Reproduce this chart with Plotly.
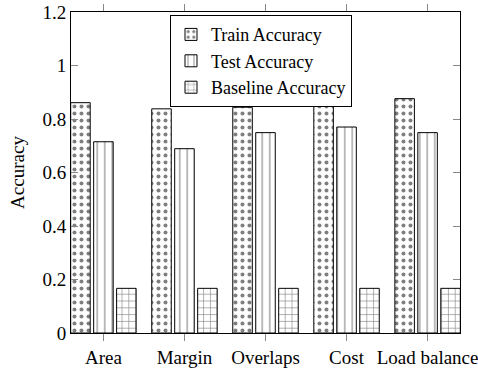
import plotly.graph_objects as go

categories = ["Area", "Margin", "Overlaps", "Cost", "Load balance"]
train_acc = [0.861, 0.838, 0.844, 0.853, 0.876]
test_acc = [0.715, 0.689, 0.749, 0.770, 0.749]
baseline_acc = [0.167, 0.167, 0.167, 0.167, 0.167]
y_ticks = [0, 0.2, 0.4, 0.6, 0.8, 1.0, 1.2]
y_tick_labels = ["0", "0.2", "0.4", "0.6", "0.8", "1", "1.2"]

FONT = "Liberation Serif"
FS = 19

series = [
    ("Train Accuracy", train_acc, dict(shape=".", size=7, solidity=0.26)),
    ("Test Accuracy", test_acc, dict(shape="|", size=7.5, solidity=0.14)),
    ("Baseline Accuracy", baseline_acc, dict(shape="+", size=6.8, solidity=0.17)),
]

fig = go.Figure()
for name, vals, pat in series:
    fig.add_trace(go.Bar(
        name=name,
        x=categories,
        y=vals,
        marker=dict(
            color="white",
            line=dict(color="black", width=1),
            pattern=dict(fgcolor="black", bgcolor="white", fillmode="overlay", **pat),
        ),
    ))

fig.update_layout(
    width=478,
    height=372,
    margin=dict(l=71, r=18, t=12, b=39, autoexpand=False),
    paper_bgcolor="white",
    plot_bgcolor="white",
    barmode="group",
    bargap=0.15,
    bargroupgap=0.15,
    font=dict(family=FONT, size=FS, color="black"),
    showlegend=True,
    legend=dict(
        x=0.2545, y=0.99, xanchor="left", yanchor="top",
        bordercolor="black", borderwidth=1, bgcolor="white",
        font=dict(family=FONT, size=18),
        tracegroupgap=0, itemwidth=30,
    ),
)

fig.update_xaxes(
    type="category",
    range=[-0.4, 4.4],
    automargin=False,
    showline=True, linecolor="black", linewidth=1, mirror="ticks",
    ticks="outside", ticklen=7, tickcolor="#888", tickwidth=1,
    showgrid=False, zeroline=False,
    tickfont=dict(family=FONT, size=FS),
)
fig.update_yaxes(
    range=[0, 1.2],
    automargin=False,
    tickvals=y_ticks, ticktext=y_tick_labels,
    showline=True, linecolor="black", linewidth=1, mirror="ticks",
    ticks="inside", ticklen=7, tickcolor="#888", tickwidth=1,
    showgrid=False, zeroline=False,
    title=dict(text="Accuracy", font=dict(family=FONT, size=FS), standoff=12),
    tickfont=dict(family=FONT, size=FS),
)

fig.write_html("out.html")
